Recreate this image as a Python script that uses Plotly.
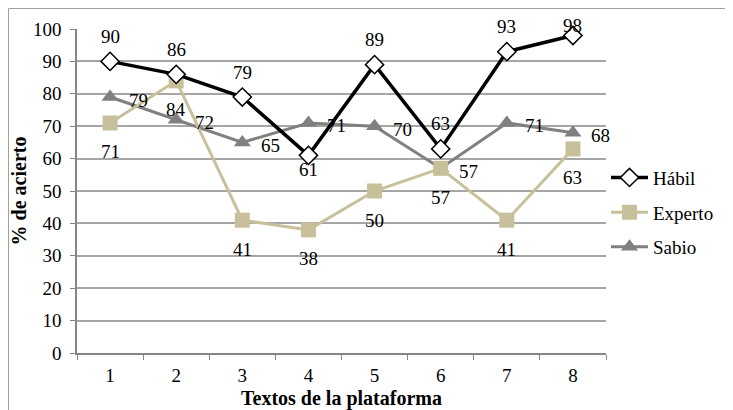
import plotly.graph_objects as go

textos = ["1", "2", "3", "4", "5", "6", "7", "8"]
habil = [90, 86, 79, 61, 89, 63, 93, 98]
experto = [71, 84, 41, 38, 50, 57, 41, 63]
sabio = [79, 72, 65, 71, 70, 57, 71, 68]

# where each Hábil label sits relative to its marker
habil_lado = ["arriba", "arriba", "arriba", "abajo",
              "arriba", "arriba", "arriba", "arriba"]

serif = "Liberation Serif, Times New Roman, serif"
lbl = dict(family=serif, size=19, color="black")

# the page body adds an 8px margin, so the figure is drawn 8px smaller
W, H = 725, 402
ML, MR, MT, MB = 69, 127, 21, 57
PW, PH = W - ML - MR, H - MT - MB

fig = go.Figure()

fig.add_trace(go.Scatter(
    x=textos, y=sabio, name="Sabio", mode="lines+markers",
    legendrank=3, legendgroup="sabio", cliponaxis=False,
    line=dict(color="#808080", width=3),
    marker=dict(symbol="triangle-up", size=15, color="#808080"),
))
fig.add_trace(go.Scatter(
    x=textos, y=experto, name="Experto", mode="lines+markers",
    legendrank=2, legendgroup="experto", cliponaxis=False,
    line=dict(color="#C8C09B", width=3),
    marker=dict(symbol="square", size=15, color="#C8C09B"),
))
fig.add_trace(go.Scatter(
    x=textos, y=habil, name="Hábil", mode="lines+markers",
    legendrank=1, legendgroup="habil", cliponaxis=False,
    line=dict(color="black", width=3.5),
    marker=dict(symbol="diamond", size=14, color="white",
                line=dict(color="black", width=1.5)),
))

# annotations on a category axis take the category index as x
annotations = []
for i, (v, lado) in enumerate(zip(habil, habil_lado)):
    if lado == "abajo":
        dy = -14
    elif v > 95:
        dy = 10
    else:
        dy = 25
    annotations.append(dict(x=i, y=v, text=str(v), showarrow=False,
                            yshift=dy, font=lbl))
for i, v in enumerate(experto):
    annotations.append(dict(x=i, y=v, text=str(v), showarrow=False,
                            yshift=-29, font=lbl))
for i, v in enumerate(sabio):
    annotations.append(dict(x=i, y=v, text=str(v), showarrow=False,
                            xshift=28, yshift=-3, font=lbl))

fig.update_layout(
    width=W, height=H,
    margin=dict(l=ML, r=MR, t=MT, b=MB),
    paper_bgcolor="white", plot_bgcolor="white",
    font=dict(family=serif, size=19, color="black"),
    showlegend=True,
    legend=dict(x=1.0, y=0.6, xanchor="left", yanchor="top",
                traceorder="grouped", tracegroupgap=7, itemwidth=37,
                font=dict(family=serif, size=19),
                bgcolor="rgba(0,0,0,0)"),
    xaxis=dict(
        type="category", tickson="boundaries", ticks="outside",
        ticklen=5, tickcolor="#868686", showline=True, linecolor="#868686",
        linewidth=1.5, showgrid=False, automargin=False,
        range=[-0.5, len(textos) - 0.5],
        ticklabelstandoff=4,
        tickfont=dict(family=serif, size=19),
        title=dict(text="<b>Textos de la plataforma</b>", standoff=6,
                   font=dict(family=serif, size=20)),
    ),
    yaxis=dict(
        range=[0, 100], dtick=10, ticks="outside", ticklen=5,
        tickcolor="#868686", showline=True, linecolor="#868686", linewidth=1.5,
        gridcolor="#A6A6A6", gridwidth=1.5, zeroline=False, automargin=False,
        ticklabelstandoff=5,
        tickfont=dict(family=serif, size=19),
        title=dict(text="<b>% de acierto</b>", standoff=4,
                   font=dict(family=serif, size=20)),
    ),
    annotations=annotations,
    shapes=[dict(type="rect", xref="paper", yref="paper",
                 x0=-(ML - 0.5) / PW, x1=1 + (MR - 3) / PW,
                 y0=-(MB + 5) / PH, y1=1 + (MT - 0.5) / PH,
                 line=dict(color="#A0A0A0", width=1))],
)

fig.write_html("out.html")
